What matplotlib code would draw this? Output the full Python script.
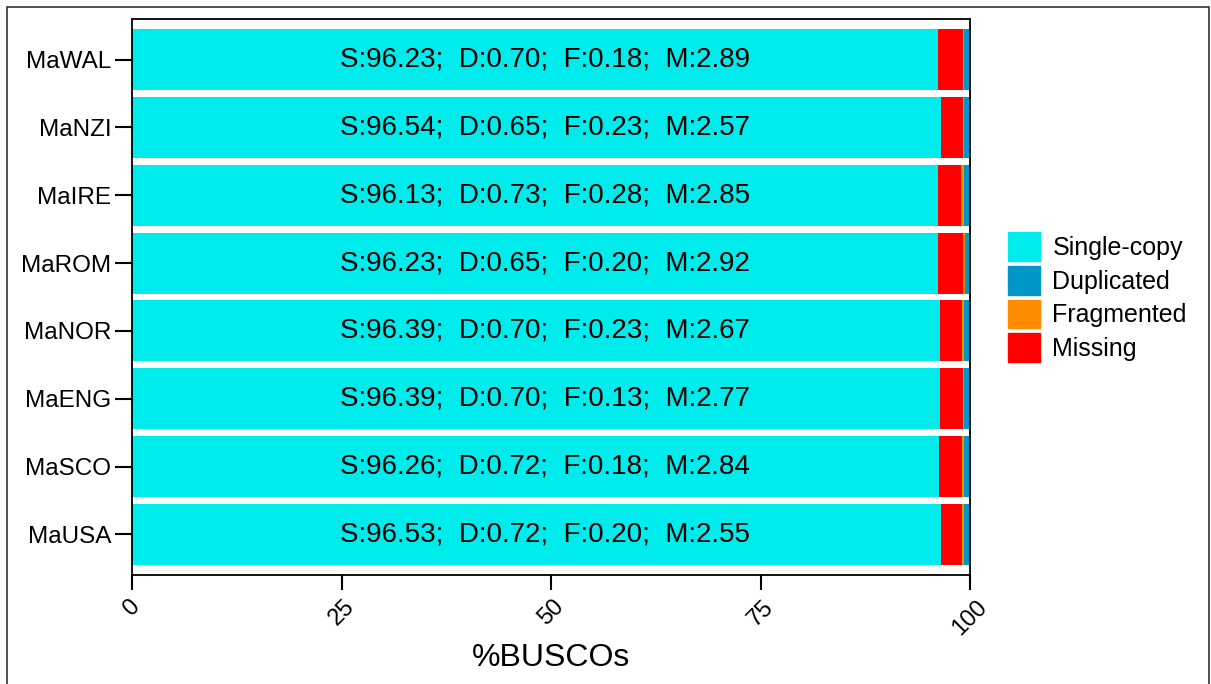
import matplotlib.pyplot as plt
import matplotlib.patches as mpatches

plt.rcParams["font.family"] = ["Liberation Sans", "DejaVu Sans"]

# samples from top to bottom
samples = ["MaWAL", "MaNZI", "MaIRE", "MaROM", "MaNOR", "MaENG", "MaSCO", "MaUSA"]
single = [96.23, 96.54, 96.13, 96.23, 96.39, 96.39, 96.26, 96.53]
duplicated = [0.70, 0.65, 0.73, 0.65, 0.70, 0.70, 0.72, 0.72]
fragmented = [0.18, 0.23, 0.28, 0.20, 0.23, 0.13, 0.18, 0.20]
missing = [2.89, 2.57, 2.85, 2.92, 2.67, 2.77, 2.84, 2.55]

col_s = "#00EBEB"
col_d = "#0096C8"
col_f = "#FF8C00"
col_m = "#FF0000"

fig = plt.figure(figsize=(12.11, 6.84), dpi=100)
ax = fig.add_axes([132 / 1211, 1 - 575 / 684, (970 - 132) / 1211, (575 - 19) / 684])

ypos = list(range(len(samples)))[::-1]
h = 0.9
left = [0.0] * len(samples)
# stacking order along the bar: single, missing, fragmented, duplicated
for vals, c in [(single, col_s), (missing, col_m), (fragmented, col_f), (duplicated, col_d)]:
    ax.barh(ypos, vals, left=left, height=h, color=c, edgecolor="none")
    left = [l + v for l, v in zip(left, vals)]

for i, y in enumerate(ypos):
    txt = f"S:{single[i]:.2f};  D:{duplicated[i]:.2f};  F:{fragmented[i]:.2f};  M:{missing[i]:.2f}"
    ax.text(49.3, y, txt, ha="center", va="center", fontsize=20, color="black")

ax.set_xlim(0, 100)
ax.set_ylim(-0.6, len(samples) - 1 + 0.6)
ax.set_yticks(ypos)
ax.set_yticklabels(samples, fontsize=17.5)
ax.set_xticks([0, 25, 50, 75, 100])
ax.set_xticklabels(["0", "25", "50", "75", "100"], fontsize=17, rotation=45,
                   ha="center", va="top")
ax.tick_params(axis="y", length=12, width=1.5, color="black", pad=3)
ax.tick_params(axis="x", length=11, width=1.5, color="black", pad=4)
for s in ax.spines.values():
    s.set_linewidth(1.3)
    s.set_color("black")
ax.set_xlabel("%BUSCOs", fontsize=23, labelpad=3)

handles = [mpatches.Patch(color=col_s, label="Single-copy"),
           mpatches.Patch(color=col_d, label="Duplicated"),
           mpatches.Patch(color=col_f, label="Fragmented"),
           mpatches.Patch(color=col_m, label="Missing")]
fig.legend(handles=handles, loc="center left", bbox_to_anchor=(1008 / 1211, 1 - 297 / 684),
           frameon=False, fontsize=18, handlelength=1.28, handleheight=1.38,
           handletextpad=0.5, labelspacing=0.2, borderaxespad=0, borderpad=0)

fig.patches.append(mpatches.Rectangle((7 / 1211, -0.02), 1 - 9 / 1211, 1 - 7 / 684 + 0.02,
                                      transform=fig.transFigure, fill=False,
                                      edgecolor="#333333", linewidth=1.2))

fig.savefig("out.png", dpi=100)
